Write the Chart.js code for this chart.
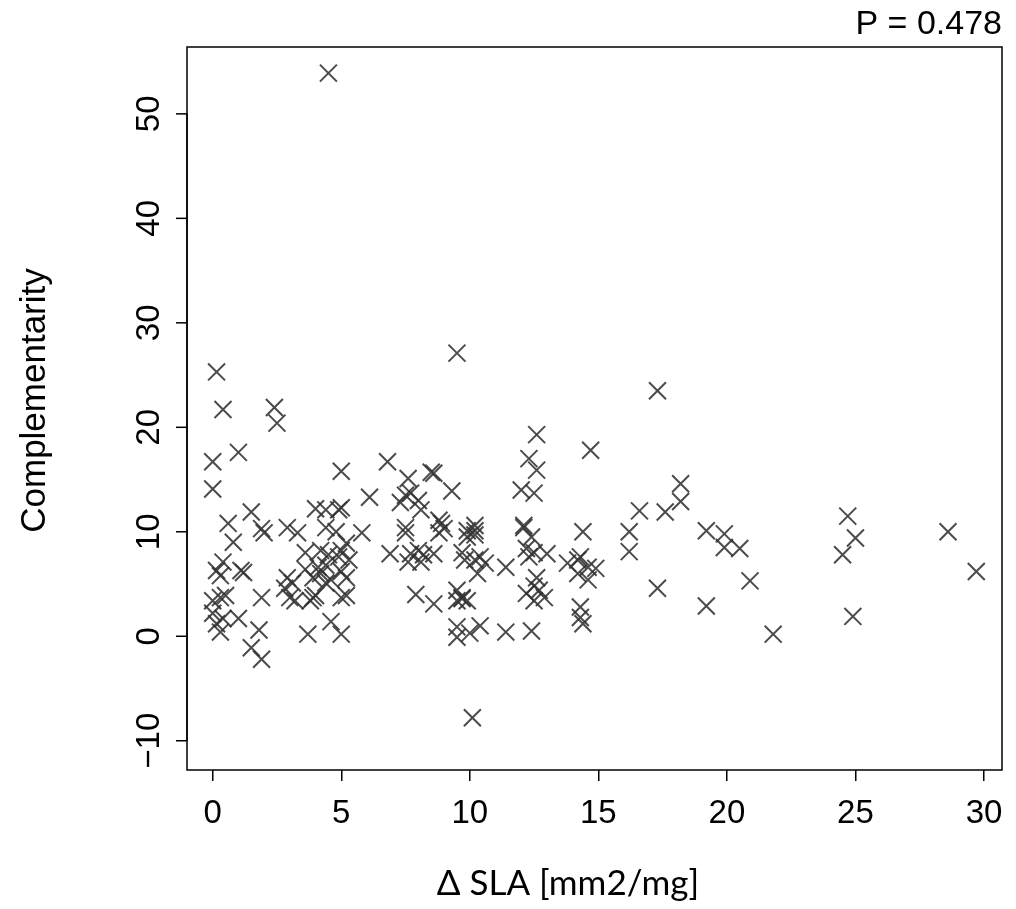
<!DOCTYPE html>
<html>
<head>
<meta charset="utf-8">
<script src="https://cdn.jsdelivr.net/npm/chart.js@4.4.0/dist/chart.umd.min.js"></script>
<style>
html,body{margin:0;padding:0;background:#fff;}
#wrap{width:1016px;height:909px;position:relative;}
</style>
</head>
<body>
<div id="wrap"><canvas id="c" width="1016" height="909"></canvas></div>
<script>
// ---- data (Δ SLA, Complementarity) ----
const deltaSLA = [
  0.15,0.4,0.0,1.0,0.0,0.6,0.8,0.4,0.15,0.3,1.1,1.2,0.3,0.0,0.5,0.0,0.4,0.15,0.3,1.0,
  2.4,2.5,1.5,1.9,2.0,1.9,1.8,1.5,1.9,
  2.9,3.3,4.4,4.8,5.8,5.2,3.6,4.2,4.5,5.0,5.3,4.9,3.6,4.1,4.4,5.0,4.2,2.9,3.1,3.9,4.6,5.2,4.4,
  2.8,3.0,3.2,3.9,3.8,4.0,5.0,5.2,4.6,5.0,3.7,4.0,4.4,5.0,4.9,5.0,4.5,
  6.1,6.8,7.6,8.5,8.6,7.7,7.5,8.0,7.3,8.1,9.3,6.9,7.5,7.5,8.8,8.9,9.0,8.8,9.9,9.9,
  7.7,8.0,8.2,8.6,7.6,8.1,9.7,9.8,7.9,8.6,9.5,9.7,9.5,9.7,9.5,9.5,10.0,9.5,9.9,
  10.2,10.2,10.2,10.4,10.6,10.3,10.2,11.4,10.4,11.4,12.4,10.1,
  12.6,12.3,12.6,12.0,12.5,12.1,12.1,12.4,12.2,12.5,13.0,12.3,12.6,12.2,12.9,12.5,12.7,12.5,
  14.7,14.4,13.8,14.2,14.6,14.2,14.6,14.3,14.3,14.3,14.4,14.9,
  16.2,16.2,16.6,17.6,18.2,18.2,17.3,17.3,19.2,19.9,19.9,20.5,20.9,19.2,21.8,
  24.7,25.0,24.5,24.9,28.6,29.7
];
const complementarity = [
  25.3,21.7,16.7,17.6,14.1,10.8,9.0,7.1,6.3,5.8,6.3,6.1,3.7,3.4,3.9,2.2,1.7,1.2,0.4,1.7,
  21.9,20.4,11.9,10.3,9.9,3.7,0.6,-1.1,-2.2,
  10.4,9.9,10.4,10.0,9.9,8.9,8.0,8.2,7.8,8.2,7.3,7.6,6.4,6.6,6.8,6.2,6.0,5.6,5.1,5.6,5.4,5.6,5.1,
  4.6,3.7,3.4,3.7,3.4,3.9,3.7,3.9,1.4,0.2,0.2,12.2,12.1,12.3,12.1,15.8,53.9,
  13.3,16.7,15.1,15.7,15.6,13.7,13.5,13.0,12.8,12.1,13.9,7.9,10.4,9.9,11.1,10.8,10.3,9.9,10.1,9.5,
  7.9,8.2,7.8,7.9,7.1,7.1,8.0,7.3,4.0,3.1,4.4,3.7,3.4,3.6,0.9,-0.1,0.3,27.1,3.4,
  10.6,10.1,9.7,7.6,7.0,6.0,7.3,6.6,1.0,0.4,0.5,-7.8,
  19.3,17.0,15.9,14.0,13.7,10.6,10.4,9.5,8.4,8.0,7.9,7.6,5.6,4.1,3.7,4.8,4.4,3.4,
  17.8,10.0,7.0,7.3,6.6,6.0,5.4,7.6,2.8,1.8,1.2,6.5,
  10.0,8.1,12.0,11.9,14.6,12.9,23.5,4.6,10.1,9.8,8.5,8.4,5.3,2.9,0.2,
  11.5,9.4,7.8,1.9,10.0,6.2
];
const xTicks = [0,5,10,15,20,25,30];
const yTicks = [-10,0,10,20,30,40,50];
const xTitle = 'Δ SLA [mm2/mg]';
const yTitle = 'Complementarity';
const pLabel = 'P = 0.478';

const points = deltaSLA.map((x,i)=>({x:x, y:complementarity[i]}));

const TICKFONT = '33px "Liberation Sans", Arial, sans-serif';

const decor = {
  id:'decor',
  afterDraw(chart){
    const ctx = chart.ctx, a = chart.chartArea;
    const ys = chart.scales.y;
    ctx.save();
    // box
    ctx.strokeStyle = '#000'; ctx.lineWidth = 1.5;
    ctx.strokeRect(a.left, a.top, a.right-a.left, a.bottom-a.top);
    // y axis tick marks and labels (rotated)
    ctx.fillStyle = '#000';
    ctx.font = TICKFONT;
    ctx.textAlign = 'center'; ctx.textBaseline = 'middle';
    yTicks.forEach(v=>{
      const py = ys.getPixelForValue(v);
      ctx.beginPath(); ctx.moveTo(a.left, py); ctx.lineTo(a.left-11, py); ctx.stroke();
      ctx.save(); ctx.translate(150, py); ctx.rotate(-Math.PI/2);
      ctx.fillText(String(v).replace('-', '\u2212'), 0, 0); ctx.restore();
    });
    // y axis line
    ctx.beginPath(); ctx.moveTo(a.left, ys.getPixelForValue(-10)); ctx.lineTo(a.left, ys.getPixelForValue(50)); ctx.stroke();
    // y title
    ctx.save(); ctx.translate(35, (a.top+a.bottom)/2 - 8); ctx.rotate(-Math.PI/2);
    ctx.font = '35px "Liberation Sans", Arial, sans-serif';
    ctx.fillText(yTitle, 0, 0); ctx.restore();
    // x title
    ctx.font = '35px Lato, "Open Sans", sans-serif';
    ctx.fillText(xTitle, 568, 884);
    // P label
    ctx.font = '34px "Liberation Sans", Arial, sans-serif';
    ctx.textAlign = 'right';
    ctx.fillText(pLabel, a.right, 25);
    ctx.restore();
  }
};

new Chart(document.getElementById('c'), {
  type:'scatter',
  data:{datasets:[{
    data:points,
    pointStyle:'crossRot',
    pointRadius:12,
    pointHoverRadius:12,
    borderWidth:2,
    borderColor:'rgba(50,50,50,0.88)',
    backgroundColor:'rgba(50,50,50,0.88)'
  }]},
  options:{
    responsive:false,
    animation:false,
    events:[],
    layout:{padding:{top:47,right:8,left:0,bottom:0}},
    plugins:{legend:{display:false},tooltip:{enabled:false},title:{display:false}},
    scales:{
      x:{
        type:'linear', min:-1.0, max:30.7,
        afterBuildTicks(s){ s.ticks = xTicks.map(v=>({value:v})); },
        afterFit(s){ s.height = 139; },
        grid:{drawOnChartArea:false, drawTicks:true, tickLength:11, color:'#000', lineWidth:1.5},
        border:{display:false},
        ticks:{font:{family:'"Liberation Sans", Arial, sans-serif', size:33}, color:'#000', padding:13, maxRotation:0, autoSkip:false}
      },
      y:{
        type:'linear', min:-12.8, max:56.4,
        afterBuildTicks(s){ s.ticks = yTicks.map(v=>({value:v})); },
        afterFit(s){ s.width = 187; },
        grid:{display:false},
        border:{display:false},
        ticks:{display:false}
      }
    }
  },
  plugins:[decor]
});
</script>
</body>
</html>
